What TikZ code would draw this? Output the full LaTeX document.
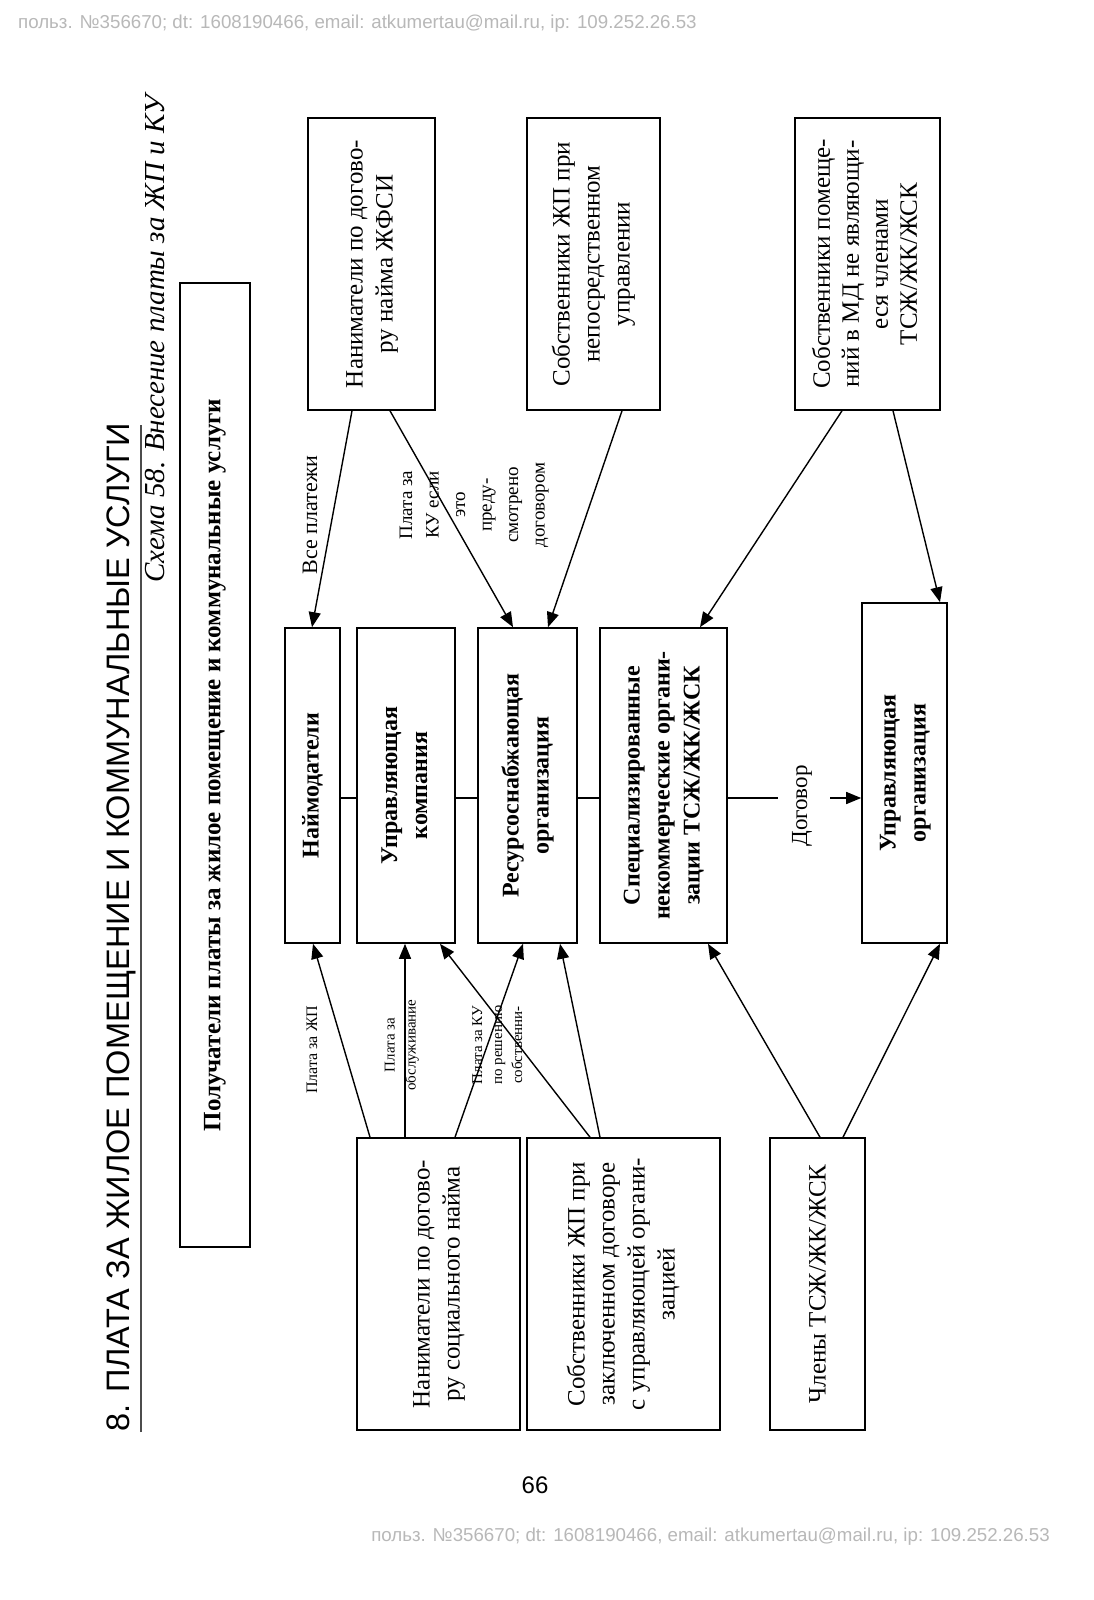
\documentclass[tikz,border=0pt]{standalone}
\usepackage{fontspec}
\setmainfont{Liberation Serif}
\newfontfamily\arialf{Liberation Sans}
\usetikzlibrary{arrows.meta}
\definecolor{wmgray}{gray}{0.72}
\newcommand{\rotT}[1]{\rotatebox{90}{#1}}
\newcommand{\ttab}[1]{\begin{tabular}{@{}c@{}}#1\end{tabular}}
\begin{document}
\begin{tikzpicture}[x=1pt,y=-1pt,
  box/.style={draw, line width=1.6pt, inner sep=0pt},
  conn/.style={line width=1.4pt, -{Triangle[length=15pt,width=12pt]}},
  plainln/.style={line width=1.3pt},
  lbl/.style={inner sep=0pt}]
\useasboundingbox (0,0) rectangle (1093,1600);
\fill[white] (0,0) rectangle (1093,1600);

% watermarks
\node[lbl, text=wmgray, font=\arialf\fontsize{18.7}{22}\selectfont, anchor=west] (wmtop) at (18,24) {польз. №356670; dt: 1608190466, email: atkumertau@mail.ru, ip: 109.252.26.53};
\node[lbl, text=wmgray, font=\arialf\fontsize{18.7}{22}\selectfont, anchor=east] (wmbot) at (1050,1537) {польз. №356670; dt: 1608190466, email: atkumertau@mail.ru, ip: 109.252.26.53};

% page number
\node[lbl, font=\arialf\fontsize{24}{28}\selectfont] (pnum) at (535,1485) {66};

% title
\node[lbl, font=\arialf\fontsize{32.5}{38}\selectfont, anchor=west, rotate=90] (title) at (121,1432) {8. ПЛАТА ЗА ЖИЛОЕ ПОМЕЩЕНИЕ И КОММУНАЛЬНЫЕ УСЛУГИ};
\coordinate (ulA) at (141,1432);
\coordinate (ulB) at (141,425);
\draw[line width=1.5pt, black!70] (ulA) -- (ulB);

% subtitle
\node[lbl, font=\fontsize{29}{34}\selectfont\itshape, anchor=east, rotate=90] (subt) at (155,95) {Схема 58. Внесение платы за ЖП и КУ};

% header box
\node[box, minimum width=70pt, minimum height=964pt] (H) at (215,765)
  {\rotT{\fontsize{25}{30}\selectfont\bfseries Получатели платы за жилое помещение и коммунальные услуги}};

% top row
\node[box, minimum width=127pt, minimum height=292pt] (A) at (371.5,264)
  {\rotT{\fontsize{25}{30}\selectfont\ttab{Наниматели по догово-\\ру найма ЖФСИ}}};
\node[box, minimum width=133pt, minimum height=292pt] (B) at (593.5,264)
  {\rotT{\fontsize{25}{30}\selectfont\ttab{Собственники ЖП при\\непосредственном\\управлении}}};
\node[box, minimum width=145pt, minimum height=292pt] (C) at (867.5,264)
  {\rotT{\fontsize{25}{29}\selectfont\ttab{Собственники помеще-\\ний в МД не являющи-\\еся членами\\ТСЖ/ЖК/ЖСК}}};

% middle row
\node[box, minimum width=55pt, minimum height=315pt] (N) at (312.5,785.5)
  {\rotT{\fontsize{24}{30}\selectfont\bfseries Наймодатели}};
\node[box, minimum width=98pt, minimum height=315pt] (UK) at (406,785.5)
  {\rotT{\fontsize{24}{30}\selectfont\bfseries\ttab{Управляющая\\компания}}};
\node[box, minimum width=99pt, minimum height=315pt] (RSO) at (527.5,785.5)
  {\rotT{\fontsize{24}{30}\selectfont\bfseries\ttab{Ресурсоснабжающая\\организация}}};
\node[box, minimum width=127pt, minimum height=315pt] (SNO) at (663.5,785.5)
  {\rotT{\fontsize{24}{30}\selectfont\bfseries\ttab{Специализированные\\некоммерческие органи-\\зации ТСЖ/ЖК/ЖСК}}};
\node[box, minimum width=85pt, minimum height=340pt] (UO) at (904.5,773)
  {\rotT{\fontsize{24}{30}\selectfont\bfseries\ttab{Управляющая\\организация}}};

% bottom row
\node[box, minimum width=163pt, minimum height=292pt] (D) at (438.5,1284)
  {\rotT{\fontsize{25}{30}\selectfont\ttab{Наниматели по догово-\\ру социального найма}}};
\node[box, minimum width=193pt, minimum height=292pt] (E) at (623.5,1284)
  {\rotT{\fontsize{25}{30}\selectfont\ttab{Собственники ЖП при\\заключенном договоре\\с управляющей органи-\\зацией}}};
\node[box, minimum width=95pt, minimum height=292pt] (F) at (817.5,1284)
  {\rotT{\fontsize{25}{30}\selectfont Члены ТСЖ/ЖК/ЖСК}};

% horizontal links between middle boxes
\draw[plainln] ([yshift=-12.5pt]N.east) -- ([yshift=-12.5pt]UK.west);
\draw[plainln] ([yshift=-12.5pt]UK.east) -- ([yshift=-12.5pt]RSO.west);
\draw[plainln] ([yshift=-12.5pt]RSO.east) -- ([yshift=-12.5pt]SNO.west);
\coordinate (dogA) at (778,798);
\coordinate (dogB) at (830,798);
\draw[plainln] ([yshift=-12.5pt]SNO.east) -- (dogA);
\draw[conn] (dogB) -- ([yshift=-25pt]UO.west);
\node[lbl, font=\fontsize{23}{28}\selectfont] (dog) at (802,806) {\rotT{Договор}};

% top arrows
\draw[conn] ([xshift=-19.5pt]A.south) -- ([xshift=-0.5pt]N.north);
\draw[conn] ([xshift=18.5pt]A.south) -- ([xshift=-14.5pt]RSO.north);
\draw[conn] ([xshift=28.5pt]B.south) -- ([xshift=20.5pt]RSO.north);
\draw[conn] ([xshift=-25.5pt]C.south) -- ([xshift=36.5pt]SNO.north);
\draw[conn] ([xshift=25.5pt]C.south) -- ([xshift=35.5pt]UO.north);

% bottom arrows
\draw[conn] ([xshift=-68.5pt]D.north) -- ([xshift=0.5pt]N.south);
\draw[conn] ([xshift=-33.5pt]D.north) -- ([xshift=-1pt]UK.south);
\draw[conn] ([xshift=16.5pt]D.north) -- ([xshift=-4.5pt]RSO.south);
\draw[conn] ([xshift=-33.5pt]E.north) -- ([xshift=34pt]UK.south);
\draw[conn] ([xshift=-23.5pt]E.north) -- ([xshift=32.5pt]RSO.south);
\draw[conn] ([xshift=2.5pt]F.north) -- ([xshift=44.5pt]SNO.south);
\draw[conn] ([xshift=25.5pt]F.north) -- ([xshift=35.5pt]UO.south);

% labels
\node[lbl, font=\fontsize{22}{26}\selectfont] (l1) at (310,515) {\rotT{Все платежи}};
\node[lbl, font=\fontsize{19}{26.5}\selectfont] (l2) at (473,505) {\rotT{\ttab{Плата за\\КУ если\\это\\преду-\\смотрено\\договором}}};
\node[lbl, font=\fontsize{16}{20}\selectfont] (l3) at (312,1050) {\rotT{Плата за ЖП}};
\node[lbl, font=\fontsize{15}{21}\selectfont] (l4) at (401,1045) {\rotT{\ttab{Плата за\\обслуживание}}};
\node[lbl, font=\fontsize{15}{20}\selectfont] (l5) at (498,1045) {\rotT{\ttab{Плата за КУ\\по решению\\собственни-}}};
\end{tikzpicture}
\end{document}
